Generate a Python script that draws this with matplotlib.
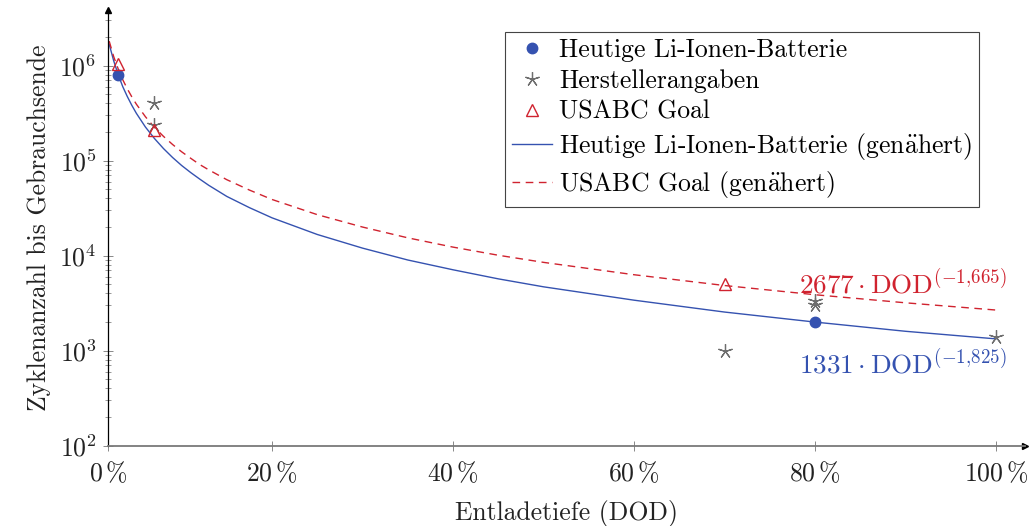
import matplotlib
matplotlib.use("Agg")
import matplotlib.pyplot as plt
from matplotlib.ticker import FixedLocator, LogLocator, NullFormatter

plt.rcParams['font.family'] = ['cmr10', 'DejaVu Serif']
plt.rcParams['mathtext.fontset'] = 'cm'
plt.rcParams['axes.formatter.use_mathtext'] = True
plt.rcParams['font.size'] = 18.5

# measured points (DOD in %, cycles)
li_x = [3, 80]
li_y = [8.0e5, 2000]
hersteller_x = [7, 7, 70, 80, 80, 100]
hersteller_y = [4.0e5, 2.4e5, 1000, 3000, 3300, 1400]
usabc_x = [3, 7, 70]
usabc_y = [1.05e6, 2.1e5, 5000]

# fitted curves
fit_x = [2, 2.5, 3, 3.5, 4, 4.5, 5, 6, 7, 8, 9, 10, 11, 12, 13, 15, 17.5, 20, 25, 30,
         35, 40, 45, 50, 60, 70, 80, 90, 100]
li_fit_y = [1.68e6, 1.12e6, 8.0e5, 6.0e5, 4.73e5, 3.82e5, 3.15e5, 2.26e5, 1.71e5, 1.34e5,
            1.08e5, 8.9e4, 7.5e4, 6.4e4, 5.5e4, 4.2e4, 3.2e4, 2.5e4, 1.67e4, 1.2e4,
            9.0e3, 7.1e3, 5.7e3, 4.7e3, 3.4e3, 2.55e3, 2.0e3, 1.6e3, 1331]
usabc_fit_y = [1.81e6, 1.24e6, 9.2e5, 7.1e5, 5.7e5, 4.69e5, 3.93e5, 2.9e5, 2.24e5, 1.8e5,
               1.48e5, 1.24e5, 1.06e5, 9.1e4, 8.0e4, 6.3e4, 4.9e4, 3.9e4, 2.7e4, 2.0e4,
               1.54e4, 1.23e4, 1.01e4, 8.5e3, 6.3e3, 4.85e3, 3.88e3, 3.19e3, 2677]

xtick_pos = [1.9, 20, 40, 60, 80, 100]
xtick_labels = [r'$0\,\%$', r'$20\,\%$', r'$40\,\%$', r'$60\,\%$', r'$80\,\%$', r'$100\,\%$']

blue = '#3552b0'
red = '#d0232f'
gray = '#6e6e6e'

fig = plt.figure(figsize=(10.3, 5.26), dpi=100)
ax = fig.add_axes([108.3 / 1030, 80.3 / 526, (1025 - 108.3) / 1030, 435.7 / 526])

ax.plot(li_x, li_y, 'o', color=blue, ms=7.5, label='Heutige Li-Ionen-Batterie', zorder=4)
ax.plot(hersteller_x, hersteller_y, linestyle='none', marker=(5, 2, 0), color=gray,
        ms=10.5, mew=0.9, label='Herstellerangaben', zorder=4)
ax.plot(usabc_x, usabc_y, '^', mfc='none', mec=red, ms=9, mew=1.0,
        label='USABC Goal', zorder=4)
ax.plot(fit_x, li_fit_y, '-', color=blue, lw=1.0,
        label=r'Heutige Li-Ionen-Batterie (gen$\ddot{\rm a}$hert)')
ax.plot(fit_x, usabc_fit_y, '--', color=red, lw=1.0, dashes=(5.5, 4),
        label=r'USABC Goal (gen$\ddot{\rm a}$hert)')

ax.set_yscale('log')
ax.set_xlim(1.9, 103.2)
ax.set_ylim(1e2, 3.85e6)

ax.xaxis.set_major_locator(FixedLocator(xtick_pos))
ax.set_xticklabels(xtick_labels)
ax.yaxis.set_major_locator(LogLocator(base=10, numticks=10))
ax.yaxis.set_minor_locator(LogLocator(base=10, subs=range(2, 10), numticks=20))
ax.yaxis.set_minor_formatter(NullFormatter())

ax.spines['top'].set_visible(False)
ax.spines['right'].set_visible(False)
ax.spines['left'].set_color('black')
ax.spines['left'].set_linewidth(0.9)
ax.spines['bottom'].set_color('#7a7a7a')
ax.spines['bottom'].set_linewidth(1.3)
ax.tick_params(axis='both', which='major', direction='inout', length=7, width=0.7,
               color='#888888', labelsize=18.5, colors='#222222')
ax.tick_params(axis='y', which='minor', direction='inout', length=5, width=0.6, color='#888888')
ax.tick_params(axis='x', pad=7)
ax.tick_params(axis='y', pad=5)

# arrow heads at the axis ends
ax.plot(1, 0, '>', color='black', ms=5, transform=ax.transAxes, clip_on=False)
ax.plot(0, 1, '^', color='black', ms=5, transform=ax.transAxes, clip_on=False)

ax.set_xlabel('Entladetiefe (DOD)', fontsize=18.5, labelpad=10, color='#222222')
ax.set_ylabel('Zyklenanzahl bis Gebrauchsende', fontsize=18.5, labelpad=6, color='#222222')

ax.text(101.2, 3550, r'$2677 \cdot \mathrm{DOD}^{(-1{,}665)}$', color=red, fontsize=19.5,
        ha='right', va='bottom')
ax.text(101.2, 1080, r'$1331 \cdot \mathrm{DOD}^{(-1{,}825)}$', color=blue, fontsize=19.5,
        ha='right', va='top')

leg = ax.legend(loc='upper right', bbox_to_anchor=(979 / 1030, 1 - 31.7 / 526),
                bbox_transform=fig.transFigure, borderaxespad=0, fancybox=False,
                edgecolor='#444444', framealpha=1, fontsize=18.5, handlelength=1.55,
                handletextpad=0.3, labelspacing=0.28, borderpad=0.25)
leg.get_frame().set_linewidth(0.8)

fig.savefig('out.png', dpi=100)
